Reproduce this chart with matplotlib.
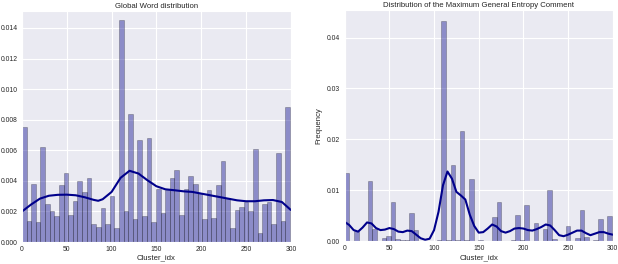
import numpy as np
import matplotlib
matplotlib.use("Agg")
import matplotlib.pyplot as plt
import seaborn as sns

# histogram: 58 bins over the cluster indices 0..299
n_bins = 58
idx_min, idx_max = 0, 299

word_density = [
    0.0075, 0.0014, 0.0038, 0.0013, 0.0062, 0.0025, 0.0020, 0.0017, 0.0037, 0.0045,
    0.0018, 0.0027, 0.0040, 0.0033, 0.0042, 0.0012, 0.0010, 0.0022, 0.0012, 0.0030,
    0.0009, 0.0145, 0.0020, 0.0084, 0.0015, 0.0067, 0.0017, 0.0068, 0.0013,
    0.0035, 0.0019, 0.0034, 0.0042, 0.0047, 0.0018, 0.0035, 0.0043, 0.0038, 0.0032,
    0.0015, 0.0034, 0.0016,
    0.0037, 0.0053, 0.0029, 0.0009, 0.0021, 0.0023, 0.0026, 0.0020, 0.0061, 0.0006,
    0.0025, 0.0026, 0.0012, 0.0058, 0.0014, 0.0088,
]

entropy_density = [
    0.0135, 0.0, 0.0020, 0.0, 0.0, 0.0118, 0.0024, 0.0, 0.0007, 0.0010,
    0.0077, 0.0005, 0.0002, 0.0002, 0.0056, 0.0023, 0.0, 0.0, 0.0, 0.0,
    0.0002, 0.0432, 0.0003, 0.0149, 0.0003, 0.0217, 0.0002, 0.0122, 0.0, 0.0002,
    0.0001, 0.0, 0.0047, 0.0078, 0.0, 0.0001, 0.0002, 0.0051, 0.0002, 0.0071,
    0.0, 0.0035, 0.0, 0.0024, 0.0100, 0.0004, 0.0, 0.0, 0.0030, 0.0,
    0.0006, 0.0061, 0.0008, 0.0, 0.0002, 0.0043, 0.0, 0.0049,
]

# kde curves
word_kde_x = [0, 10, 20, 30, 40, 50, 60, 70, 80, 85, 90, 100, 110, 120, 130, 140, 150,
              160, 170, 180, 190, 200, 210, 220, 230, 240, 250, 260, 270, 280, 290, 300]
word_kde_y = [0.0020, 0.00245, 0.00284, 0.00303, 0.00309, 0.0031, 0.00306, 0.00293,
              0.00276, 0.0027, 0.0028, 0.00328, 0.0042, 0.00466, 0.00448, 0.00404,
              0.00365, 0.00345, 0.00339, 0.00332, 0.00328, 0.00317, 0.00306, 0.00295,
              0.00284, 0.00273, 0.00267, 0.00267, 0.00273, 0.00275, 0.00262, 0.0021]

entropy_kde_x = list(range(0, 305, 5))
entropy_kde_y = [0.0038, 0.0032, 0.0022, 0.0019, 0.0027, 0.0037, 0.0035, 0.0026,
                 0.0022, 0.0023, 0.0026, 0.0024, 0.0019, 0.0018, 0.0021, 0.0020,
                 0.0013, 0.0006, 0.0003, 0.0005, 0.0022, 0.0058, 0.0110, 0.0137,
                 0.0123, 0.0097, 0.0090, 0.0082, 0.0052, 0.0030, 0.0017, 0.0018,
                 0.0025, 0.0033, 0.0029, 0.0020, 0.0017, 0.0020, 0.0025, 0.0026,
                 0.0025, 0.0022, 0.0021, 0.0024, 0.0028, 0.0033, 0.0031, 0.0022,
                 0.0012, 0.0010, 0.0013, 0.0017, 0.0021, 0.0021, 0.0016, 0.0012,
                 0.0015, 0.0018, 0.0018, 0.0015, 0.0013]

sns.set_style("darkgrid")
plt.rcParams['font.family'] = ['Liberation Sans', 'DejaVu Sans']

fig = plt.figure(figsize=(6.18, 2.64), dpi=100)
ax1 = fig.add_axes([0.0356, 0.083, 0.435, 0.875])
ax2 = fig.add_axes([0.5578, 0.086, 0.4337, 0.876])

edges = np.linspace(idx_min, idx_max, n_bins + 1)
widths = np.diff(edges)


def draw(ax, dens, kx, ky, title, ylabel=None):
    ax.bar(edges[:-1], dens, width=widths, align='edge', color='darkblue',
           alpha=0.4, edgecolor='black', linewidth=0.4)
    ax.plot(kx, ky, color='darkblue', linewidth=1.5)
    ax.set_xlim(0, 300)
    ax.set_xticks([0, 50, 100, 150, 200, 250, 300])
    ax.set_title(title, fontsize=5.6, pad=2)
    ax.set_xlabel("Cluster_idx", fontsize=5.6, labelpad=1.5)
    if ylabel:
        ax.set_ylabel(ylabel, fontsize=5.6, labelpad=3)
    ax.tick_params(labelsize=4.9, length=0)
    ax.tick_params(axis='x', pad=2.5)
    ax.tick_params(axis='y', pad=3.2)
    ax.grid(color='white', linewidth=0.8)


draw(ax1, word_density, word_kde_x, word_kde_y, "Global Word distribution")
draw(ax2, entropy_density, entropy_kde_x, entropy_kde_y,
     "Distribution of the Maximum General Entropy Comment", "Frequency")
ax1.set_ylim(0, 0.0151)
ax1.set_yticks(np.arange(0, 0.0141, 0.002))
ax1.yaxis.set_major_formatter(plt.FormatStrFormatter('%.3f'))
ax2.set_ylim(0, 0.0454)
ax2.set_yticks([0, 0.01, 0.02, 0.03, 0.04])
ax2.yaxis.set_major_formatter(plt.FormatStrFormatter('%.2f'))

fig.savefig("out.png", dpi=100)
